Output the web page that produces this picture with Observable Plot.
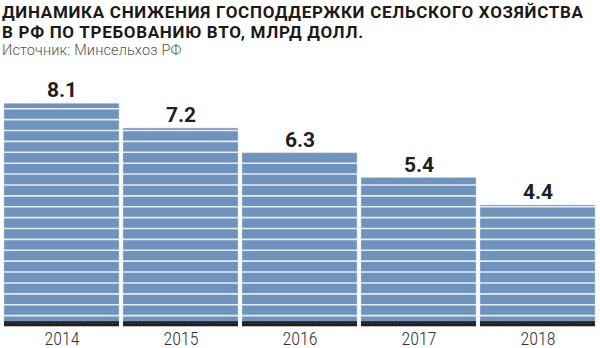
<!DOCTYPE html>
<html>
<head>
<meta charset="utf-8">
<script src="https://cdn.jsdelivr.net/npm/d3@7"></script>
<script src="https://cdn.jsdelivr.net/npm/@observablehq/plot@0.6"></script>
<style>
  html, body { margin: 0; padding: 0; background: #fff; width: 600px; height: 348px; overflow: hidden; }
  body { position: relative; font-family: "Roboto", sans-serif; }
  #title { position: absolute; left: 2px; top: 2px; font-size: 17px; line-height: 20px; font-weight: bold; letter-spacing: 0.7px; color: #1a1a1a; white-space: nowrap; }
  #sub { position: absolute; left: 2px; top: 44px; font-size: 14.5px; line-height: 14px; font-weight: 300; letter-spacing: 0.15px; color: #555; white-space: nowrap; }
  #chart { position: absolute; left: 0; top: 62px; }
</style>
</head>
<body>
<div id="title">ДИНАМИКА СНИЖЕНИЯ ГОСПОДДЕРЖКИ СЕЛЬСКОГО ХОЗЯЙСТВА<br>В РФ ПО ТРЕБОВАНИЮ ВТО, МЛРД ДОЛЛ.</div>
<div id="sub">Источник: Минсельхоз РФ</div>
<div id="chart"></div>
<script>
const years = ["2014", "2015", "2016", "2017", "2018"];
const values = [8.1, 7.2, 6.3, 5.4, 4.4];
const stripeStep = 0.396; // decorative horizontal stripe spacing (value units)

const data = years.map((year, i) => ({year, value: values[i]}));
const stripes = data.flatMap(d =>
  d3.range(1, Math.floor(d.value / stripeStep) + 1).map(k => ({year: d.year, y: k * stripeStep}))
);

const condensed = '"Roboto Condensed", "Liberation Sans Narrow", "DejaVu Sans Condensed", "Roboto", sans-serif';

const chart = Plot.plot({
  width: 600,
  height: 286,
  marginLeft: 2.2,
  marginRight: 2.8,
  marginTop: 41.3,
  marginBottom: 22,
  style: {fontFamily: "Roboto, sans-serif", background: "#fff", overflow: "visible"},
  x: {domain: years, paddingInner: 0.031, paddingOuter: 0.0155, label: null},
  y: {domain: [0, 8.1], axis: null},
  marks: [
    Plot.barY(data, {x: "year", y: "value", fill: "#6e93bc", stroke: "#c8d6e6", strokeWidth: 0.8, strokeDasharray: "1.5,1"}),
    Plot.tickY(stripes, {x: "year", y: "y", stroke: "#e6edf5", strokeWidth: 1.6}),
    Plot.tickY(data, {x: "year", y: 0, stroke: "#231f20", strokeWidth: 5, dy: -2.8}),
    Plot.tickY(data, {x: "year", y: 0, stroke: "#4a4848", strokeWidth: 1, strokeDasharray: "1,2", dy: -3}),
    Plot.text(data, {x: "year", y: "value", text: d => d.value.toFixed(1), dy: -6.5, lineAnchor: "bottom", fontSize: 21, fontWeight: "bold", fill: "#1f1f1f", fontFamily: "Roboto, sans-serif"}),
    Plot.axisX({tickSize: 0, tickPadding: 6, fontSize: 18, fontWeight: 300, color: "#333", label: null, fontFamily: condensed})
  ]
});
document.getElementById("chart").appendChild(chart);
</script>
</body>
</html>
